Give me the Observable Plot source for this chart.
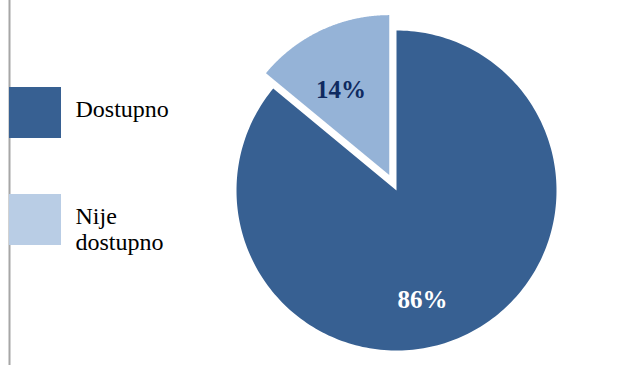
<!DOCTYPE html>
<html>
<head>
<meta charset="utf-8">
<script src="https://cdn.jsdelivr.net/npm/d3@7"></script>
<script src="https://cdn.jsdelivr.net/npm/@observablehq/plot@0.6"></script>
<style>
  html, body { margin: 0; padding: 0; background: #fff; }
  #chart { position: relative; width: 629px; height: 365px; }
  #chart svg text { font-family: "Liberation Serif", "Times New Roman", serif; }
</style>
</head>
<body>
<div id="chart"></div>
<script>
// ---- data ----
const categories = ["Dostupno", "Nije dostupno"];
const values = [86, 14];
const labels = ["86%", "14%"];
const sliceColors = ["#376092", "#95b3d7"];
const legendColors = ["#376092", "#b9cde5"];
const legendLines = [["Dostupno"], ["Nije", "dostupno"]];

// ---- layout ----
const W = 629, H = 365;
const cx = 396, cy = 190, R = 160, explode = 17;
const serif = "Liberation Serif, Times New Roman, serif";
// label placement (radius in px, angle in degrees clockwise from 12 o'clock)
const labelPolar = [{r: 113, deg: 166.7}, {r: 98, deg: -29.5}];

const total = d3.sum(values);
const slices = [];
{
  let a0 = 0;
  values.forEach((v, i) => {
    const a1 = a0 + (v / total) * 2 * Math.PI;
    slices.push({cat: categories[i], value: v, label: labels[i], a0, a1, i});
    a0 = a1;
  });
}
const pts = [];
const labelPts = [];
slices.forEach(s => {
  const mid = (s.a0 + s.a1) / 2;
  const off = s.i === 1 ? explode : 0;
  const ox = cx + off * Math.sin(mid), oy = cy - off * Math.cos(mid);
  pts.push({cat: s.cat, x: ox, y: oy});
  const n = 240;
  for (let k = 0; k <= n; k++) {
    const a = s.a0 + (s.a1 - s.a0) * k / n;
    pts.push({cat: s.cat, x: ox + R * Math.sin(a), y: oy - R * Math.cos(a)});
  }
  pts.push({cat: s.cat, x: ox, y: oy});
  const lp = labelPolar[s.i];
  const la = lp.deg * Math.PI / 180;
  labelPts.push({
    label: s.label,
    x: ox + lp.r * Math.sin(la),
    y: oy - lp.r * Math.cos(la),
    color: s.i === 1 ? "#0f2a60" : "#ffffff"
  });
});

const legendRects = categories.map((c, i) => ({cat: c, x1: 9, x2: 61, y1: 87 + i * 107, y2: 138 + i * 107, fill: legendColors[i]}));
const legendText = [];
legendLines.forEach((lines, i) => {
  lines.forEach((t, j) => legendText.push({text: t, x: 75, y: (i === 0 ? 116 : 223) + j * 26}));
});

const chart = Plot.plot({
  width: W, height: H,
  margin: 0,
  x: {domain: [0, W], range: [0, W], axis: null},
  y: {domain: [0, H], range: [0, H], axis: null},
  style: {fontFamily: serif, background: "#fff"},
  marks: [
    Plot.ruleX([9], {y1: 0, y2: H, stroke: "#a6a6a6", strokeWidth: 2}),
    Plot.line(pts, {x: "x", y: "y", z: "cat",
      fill: d => sliceColors[categories.indexOf(d.cat)],
      stroke: "none", curve: "linear"}),
    Plot.text(labelPts, {x: "x", y: "y", text: "label", fill: "color",
      fontSize: 25, fontWeight: "bold", textAnchor: "middle", fontFamily: serif}),
    Plot.rect(legendRects, {x1: "x1", x2: "x2", y1: "y1", y2: "y2", fill: "fill"}),
    Plot.text(legendText, {x: "x", y: "y", text: "text", fontSize: 24, fontFamily: serif,
      textAnchor: "start", lineAnchor: "bottom", fill: "#000"})
  ]
});
document.getElementById("chart").appendChild(chart);
</script>
</body>
</html>
